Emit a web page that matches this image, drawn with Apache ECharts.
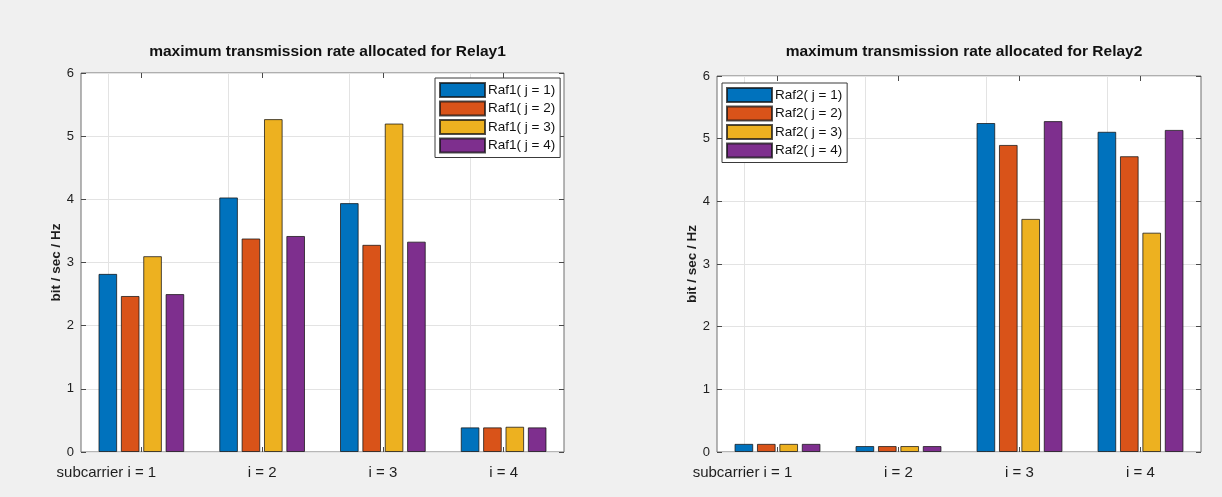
<!DOCTYPE html>
<html>
<head>
<meta charset="utf-8">
<script src="https://cdn.jsdelivr.net/npm/echarts@6/dist/echarts.min.js"></script>
<style>
  html, body { margin: 0; padding: 0; background: #f0f0f0; }
  #chart { width: 1222px; height: 497px; }
</style>
</head>
<body>
<div id="chart"></div>
<script>
// Subcarrier categories shared by both panels
const categories = ['subcarrier i = 1', 'i = 2', 'i = 3', 'i = 4'];

// Relay 1: rate per subcarrier for each j
const relay1Names = ['Raf1( j = 1)', 'Raf1( j = 2)', 'Raf1( j = 3)', 'Raf1( j = 4)'];
const raf1J1 = [2.82, 4.03, 3.94, 0.39];
const raf1J2 = [2.47, 3.38, 3.28, 0.39];
const raf1J3 = [3.10, 5.27, 5.20, 0.40];
const raf1J4 = [2.50, 3.42, 3.33, 0.39];

// Relay 2: rate per subcarrier for each j
const relay2Names = ['Raf2( j = 1)', 'Raf2( j = 2)', 'Raf2( j = 3)', 'Raf2( j = 4)'];
const raf2J1 = [0.13, 0.095, 5.25, 5.11];
const raf2J2 = [0.13, 0.095, 4.90, 4.72];
const raf2J3 = [0.13, 0.095, 3.72, 3.50];
const raf2J4 = [0.13, 0.095, 5.28, 5.14];

const titles = ['maximum transmission rate allocated for Relay1', 'maximum transmission rate allocated for Relay2'];
const yLabel = 'bit / sec / Hz';
const yMin = 0, yMax = 6, yStep = 1;

const colors = ['#0072BD', '#D95319', '#EDB120', '#7E2F8E'];
const FONT = '"Liberation Sans", Arial, Helvetica, sans-serif';
const TEXT = '#1e1e1e';
const TICK = { color: '#4a4a4a', width: 1 };

const grids = [
  { left: 81, top: 73, width: 483, height: 379 },
  { left: 717, top: 76, width: 484, height: 376 }
];

function bottomX(gi) {
  return {
    type: 'category', gridIndex: gi, data: categories.map((c, k) => k === 0
      ? { value: c, textStyle: { padding: [0, 70, 0, 0] } } : c),
    axisLine: { show: false, onZero: false },
    axisTick: { show: true, inside: true, alignWithLabel: true, length: 5, lineStyle: TICK },
    axisLabel: { interval: 0, hideOverlap: false, color: TEXT, fontSize: 15, fontFamily: FONT, margin: 13 },
    splitLine: { show: false }
  };
}
function topX(gi) {
  return {
    type: 'category', gridIndex: gi, position: 'top', data: categories,
    axisLine: { show: false, onZero: false },
    axisTick: { show: true, inside: true, alignWithLabel: true, length: 5, lineStyle: TICK },
    axisLabel: { show: false }, splitLine: { show: false }
  };
}
function leftY(gi) {
  return {
    type: 'value', gridIndex: gi, min: yMin, max: yMax, interval: yStep,
    name: yLabel, nameLocation: 'middle', nameRotate: 90, nameGap: 18,
    nameTextStyle: { color: TEXT, fontSize: 13.5, fontWeight: 'bold', fontFamily: FONT },
    axisLine: { show: false, onZero: false },
    axisTick: { show: true, inside: true, length: 5, lineStyle: TICK },
    axisLabel: { color: TEXT, fontSize: 13, fontFamily: FONT, margin: 7 },
    splitLine: { show: true, lineStyle: { color: '#e3e3e3', width: 1 } }
  };
}
function rightY(gi) {
  return {
    type: 'value', gridIndex: gi, position: 'right', min: yMin, max: yMax, interval: yStep,
    axisLine: { show: false, onZero: false },
    axisTick: { show: true, inside: true, length: 5, lineStyle: TICK },
    axisLabel: { show: false }, splitLine: { show: false }
  };
}

function barSeries(name, values, k, gi, withGrid) {
  const s = {
    name: name, type: 'bar', xAxisIndex: gi, yAxisIndex: gi,
    data: values, barGap: '20%', barCategoryGap: '29%',
    itemStyle: { color: colors[k], borderColor: 'rgba(20,20,20,0.75)', borderWidth: 1 },
    emphasis: { disabled: true }
  };
  if (withGrid) {
    // vertical grid lines at each category centre
    s.markLine = {
      silent: true, symbol: 'none', z: 1, animation: false,
      label: { show: false },
      lineStyle: { color: '#e3e3e3', width: 1, type: 'solid' },
      data: categories.map(c => ({ xAxis: c }))
    };
  }
  return s;
}

function legendFor(names, left, top) {
  return {
    data: names, orient: 'vertical', left: left, top: top,
    padding: [4, 5, 4, 4], itemGap: 2.5, itemWidth: 45, itemHeight: 14,
    backgroundColor: '#ffffff', borderColor: '#3a3a3a', borderWidth: 1, borderRadius: 0,
    icon: 'rect', selectedMode: false,
    textStyle: { color: '#111', fontSize: 13.5, lineHeight: 14, fontFamily: FONT, padding: [0, 0, 0, -2] }
  };
}

const chart = echarts.init(document.getElementById('chart'), null, { renderer: 'canvas' });
chart.setOption({
  animation: false,
  backgroundColor: '#f0f0f0',
  textStyle: { fontFamily: FONT },
  title: titles.map((t, i) => ({
    text: t, left: grids[i].left + grids[i].width / 2, top: 39, textAlign: 'center',
    textStyle: { color: '#111', fontSize: 15.5, fontWeight: 'bold', fontFamily: FONT }
  })),
  grid: grids.map(g => Object.assign({
    show: true, backgroundColor: '#ffffff', borderColor: '#6e6e6e', borderWidth: 1,
    containLabel: false
  }, g)),
  legend: [legendFor(relay1Names, 435, 78), legendFor(relay2Names, 722, 83)],
  xAxis: [bottomX(0), bottomX(1), topX(0), topX(1)],
  yAxis: [leftY(0), leftY(1), rightY(0), rightY(1)],
  series: [
    barSeries(relay1Names[0], raf1J1, 0, 0, true),
    barSeries(relay1Names[1], raf1J2, 1, 0, false),
    barSeries(relay1Names[2], raf1J3, 2, 0, false),
    barSeries(relay1Names[3], raf1J4, 3, 0, false),
    barSeries(relay2Names[0], raf2J1, 0, 1, true),
    barSeries(relay2Names[1], raf2J2, 1, 1, false),
    barSeries(relay2Names[2], raf2J3, 2, 1, false),
    barSeries(relay2Names[3], raf2J4, 3, 1, false)
  ]
});
</script>
</body>
</html>
